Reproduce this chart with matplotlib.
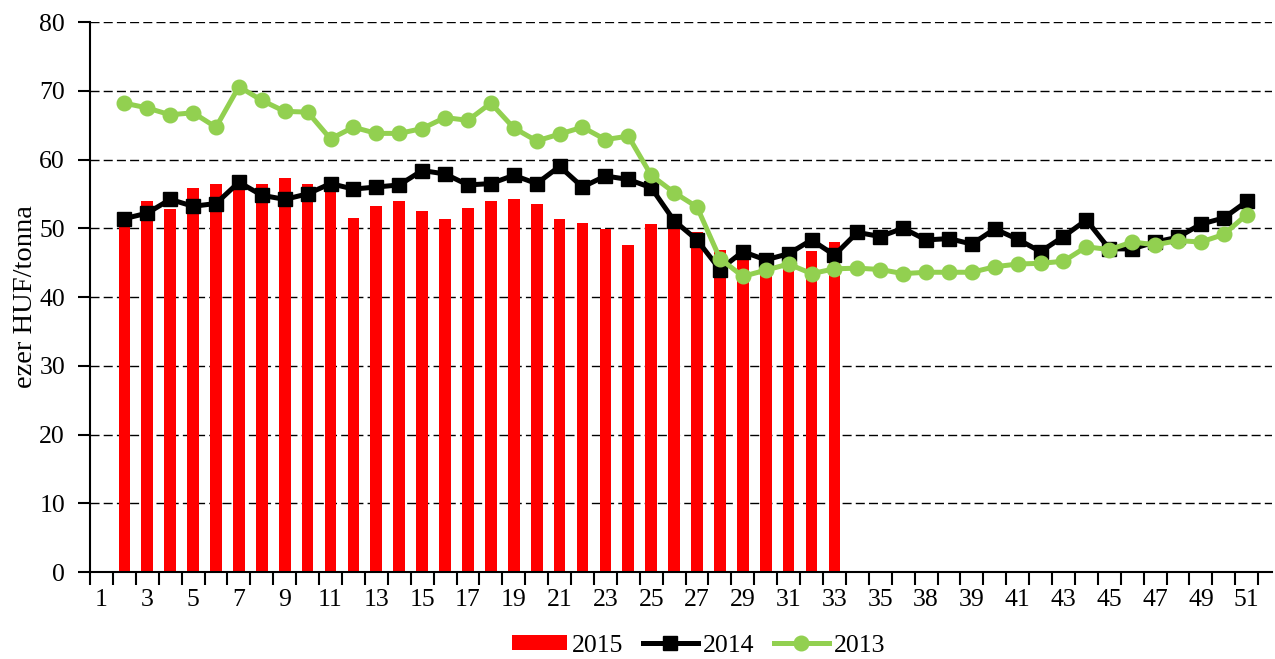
import numpy as np
import matplotlib.pyplot as plt

plt.rcParams["font.family"] = ["Liberation Serif", "DejaVu Serif"]
plt.rcParams["font.size"] = 18.5

# --------------- DATA -------------------------------------------------------
weeks = np.arange(1, 52)
tick_labels = ["1", "3", "5", "7", "9", "11", "13", "15", "17", "19", "21",
               "23", "25", "27", "29", "31", "33", "35", "38", "39", "41",
               "43", "45", "47", "49", "51"]

# 2015: weeks 2..33
w2015 = np.arange(2, 34)
v2015 = [51.0, 54.0, 52.8, 55.8, 56.4, 56.2, 56.5, 57.3, 56.4, 55.8,
         51.5, 53.2, 54.0, 52.5, 51.4, 52.9, 53.9, 54.3, 53.6, 51.4,
         50.7, 49.9, 47.5, 50.6, 50.3, 49.4, 46.9, 45.8, 45.0, 45.5,
         46.7, 48.0]

# 2014 and 2013: weeks 2..51
w_lines = np.arange(2, 52)
v2014 = [51.4, 52.2, 54.2, 53.2, 53.6, 56.7, 54.8, 54.2, 55.0, 56.5,
         55.7, 56.0, 56.3, 58.4, 57.9, 56.3, 56.5, 57.7, 56.5, 59.0,
         56.0, 57.6, 57.1, 55.9, 51.1, 48.3, 44.0, 46.6, 45.4, 46.3,
         48.3, 46.1, 49.4, 48.8, 50.0, 48.3, 48.5, 47.7, 49.9, 48.4,
         46.6, 48.8, 51.2, 47.0, 47.0, 48.0, 48.7, 50.6, 51.5, 53.9]
v2013 = [68.2, 67.5, 66.5, 66.8, 64.7, 70.6, 68.6, 67.0, 66.9, 63.0,
         64.7, 63.8, 63.8, 64.5, 66.1, 65.7, 68.2, 64.6, 62.7, 63.7,
         64.7, 62.9, 63.4, 57.7, 55.2, 53.1, 45.6, 43.0, 43.9, 44.8,
         43.4, 44.1, 44.2, 44.0, 43.4, 43.6, 43.6, 43.6, 44.4, 44.8,
         44.9, 45.2, 47.3, 46.9, 48.0, 47.6, 48.2, 48.0, 49.1, 52.0]

# --------------- PLOT -------------------------------------------------------
fig = plt.figure(figsize=(12.75, 6.59), dpi=100)
ax = fig.add_axes([0.0706, 0.132, 0.927, 0.8346])

bars = ax.bar(w2015, v2015, width=0.51, color="#FF0000", label="2015", zorder=2)
l14, = ax.plot(w_lines, v2014, color="black", lw=3.6, marker="s", markersize=10,
               label="2014", zorder=3)
l13, = ax.plot(w_lines, v2013, color="#92D050", lw=3.6, marker="o", markersize=10.5,
               label="2013", zorder=4)

ax.set_ylim(0, 80)
ax.set_yticks(np.arange(0, 81, 10))
ax.set_xlim(0.5, 52.1)

# labels on odd categories, tick marks on category boundaries
ax.set_xticks(weeks[::2])
ax.set_xticklabels(tick_labels)
ax.set_xticks(np.arange(0.5, 52, 1), minor=True)
ax.tick_params(axis="x", which="major", length=0, pad=12)
ax.tick_params(axis="x", which="minor", length=9, width=1.5, direction="out")
ax.tick_params(axis="y", length=9, width=1.5, direction="out", pad=9)

for y in range(10, 81, 10):
    ax.axhline(y, color="black", lw=1, ls=(0, (6.5, 3)), zorder=1)

for s in ["top", "right"]:
    ax.spines[s].set_visible(False)
for s in ["left", "bottom"]:
    ax.spines[s].set_linewidth(1.5)
    ax.spines[s].set_zorder(5)

ax.set_ylabel("ezer HUF/tonna", fontsize=20.5, labelpad=1)

fig.legend([bars, l14, l13], ["2015", "2014", "2013"],
           loc="center", bbox_to_anchor=(0.548, 0.02), ncol=3,
           frameon=False, handlelength=2.15, handleheight=0.55,
           handletextpad=0.2, columnspacing=0.75, borderpad=0)

fig.savefig("out.png", dpi=100)
